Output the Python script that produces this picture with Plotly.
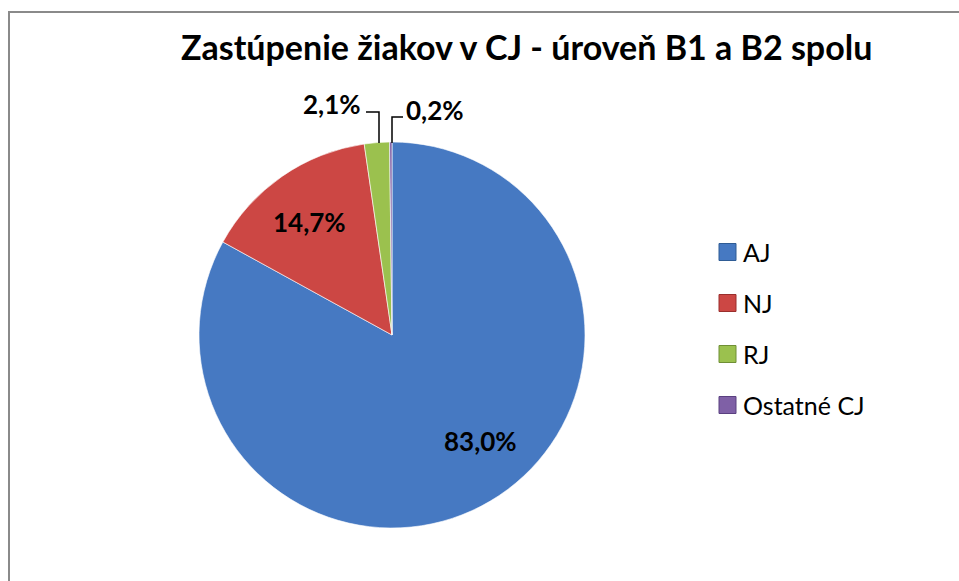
import plotly.graph_objects as go

# Language shares of students (levels B1 and B2 combined), in percent
languages = ["AJ", "NJ", "RJ", "Ostatné CJ"]
shares = [83.0, 14.7, 2.1, 0.2]
colors = ["#4679C2", "#CC4744", "#9BC14E", "#7F60A6"]
edge_colors = ["#2F5C95", "#9A2F2D", "#6F8F35", "#5A4080"]

title_text = "Zastúpenie žiakov v CJ - úroveň B1 a B2 spolu"

W, H = 959, 581
FONT = "Lato"

# pie geometry in pixels
cx, cy, R = 392, 335, 193


def px(x):
    return x / W


def py(y):
    return 1 - y / H


def fmt(v):
    return f"{v:.1f}".replace(".", ",") + "%"


fig = go.Figure(
    go.Pie(
        labels=languages,
        values=shares,
        sort=False,
        direction="clockwise",
        rotation=0,
        textinfo="none",
        hoverinfo="label+percent",
        marker=dict(colors=colors, line=dict(color="rgba(255,255,255,0.6)", width=1)),
        domain=dict(x=[px(cx - R), px(cx + R)], y=[py(cy + R), py(cy - R)]),
        showlegend=False,
    )
)

annotations = []
shapes = []

# outer frame
shapes.append(dict(type="rect", xref="paper", yref="paper",
                   x0=px(9), x1=1.02, y0=-0.02, y1=py(12),
                   line=dict(color="#8A8A8A", width=2), fillcolor="rgba(0,0,0,0)"))

# title
annotations.append(dict(text=f"<b>{title_text}</b>", x=px(526), y=py(47),
                        xref="paper", yref="paper", showarrow=False,
                        xanchor="center", yanchor="middle",
                        font=dict(family=FONT, size=34, color="#000000")))

# data labels: inside for the large slices, outside with leaders for the small ones
label_pos = {
    "AJ": (480, 441, "center"),
    "NJ": (309, 222, "center"),
    "RJ": (332, 104, "center"),
    "Ostatné CJ": (404, 110, "left"),
}
for name, val in zip(languages, shares):
    x, y, anchor = label_pos[name]
    annotations.append(dict(text=f"<b>{fmt(val)}</b>", x=px(x), y=py(y),
                            xref="paper", yref="paper", showarrow=False,
                            xanchor=anchor, yanchor="middle",
                            font=dict(family=FONT, size=26, color="#000000")))

# leader lines
leaders = [
    [(366, 112), (379, 112), (379, 143)],
    [(392, 143), (392, 117), (403, 117)],
]
for pts in leaders:
    path = "M " + " L ".join(f"{px(x)},{py(y)}" for x, y in pts)
    shapes.append(dict(type="path", xref="paper", yref="paper", path=path,
                       line=dict(color="#000000", width=1.5)))

# legend
leg_x, leg_y0, leg_dy, sq = 719, 252, 51, 17
for i, (name, c, ec) in enumerate(zip(languages, colors, edge_colors)):
    yc = leg_y0 + i * leg_dy
    shapes.append(dict(type="rect", xref="paper", yref="paper",
                       x0=px(leg_x), x1=px(leg_x + sq),
                       y0=py(yc + sq / 2), y1=py(yc - sq / 2),
                       fillcolor=c, line=dict(color=ec, width=1)))
    annotations.append(dict(text=name, x=px(leg_x + sq + 5), y=py(yc),
                            xref="paper", yref="paper", showarrow=False,
                            xanchor="left", yanchor="middle",
                            font=dict(family=FONT, size=25, color="#000000")))

fig.update_layout(
    width=W, height=H,
    margin=dict(l=0, r=0, t=0, b=0),
    paper_bgcolor="#FFFFFF",
    plot_bgcolor="#FFFFFF",
    shapes=shapes,
    annotations=annotations,
)

fig.write_html("out.html")
